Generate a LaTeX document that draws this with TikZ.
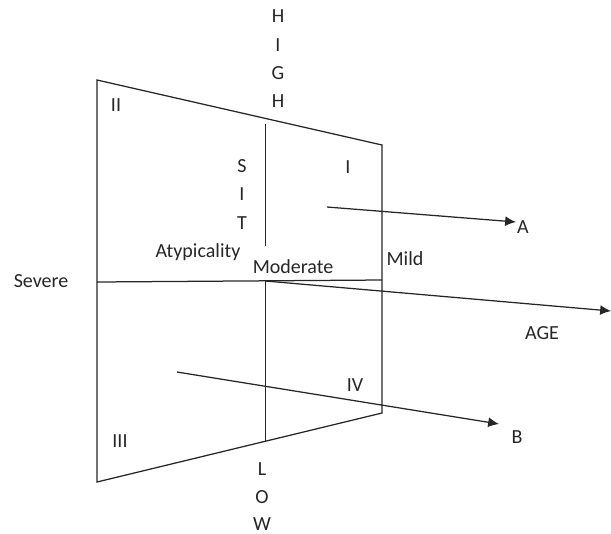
\documentclass[tikz,border=0pt]{standalone}
\usepackage{fontspec}
\setmainfont{Carlito}
\usetikzlibrary{arrows.meta}
\begin{document}
\begin{tikzpicture}[x=0.6pt,y=-0.6pt,
  ln/.style={line width=0.75pt,draw=black!85},
  arr/.style={ln,-{Latex[length=6.5pt,width=6pt]}},
  lbl/.style={font=\fontsize{12}{14}\selectfont,text=black!85,inner sep=0pt}]
\useasboundingbox (0,0) rectangle (611,533);
% frame corners
\coordinate (tl) at (97,80);
\coordinate (tr) at (382,145);
\coordinate (br) at (382,413);
\coordinate (bl) at (97,482);
\coordinate (ml) at (97,282);
\coordinate (mr) at (382,280);
\coordinate (vt) at (265.5,124);
\coordinate (vm1) at (265.5,246);
\coordinate (c) at (265.5,281);
\coordinate (vb) at (265.5,441);
\coordinate (agetip) at (611,311);
\coordinate (as) at (327,207);
\coordinate (ae) at (516,222);
\coordinate (bs) at (177,372);
\coordinate (be) at (499,424);
\draw[ln] (tl) -- (tr) -- (br) -- (bl) -- cycle;
\draw[ln] (ml) -- (mr);
\draw[ln] (vt) -- (vm1);
\draw[ln] (c) -- (vb);
\draw[arr] (c) -- (agetip);
\draw[arr] (as) -- (ae);
\draw[arr] (bs) -- (be);
% labels
\node[lbl] (h1) at (278,16) {H};
\node[lbl] (h2) at (278,45) {I};
\node[lbl] (h3) at (278,73) {G};
\node[lbl] (h4) at (278,101) {H};
\node[lbl] (q2) at (116,105) {II};
\node[lbl] (s1) at (242,166) {S};
\node[lbl] (s2) at (242,194) {I};
\node[lbl] (s3) at (242,223) {T};
\node[lbl] (q1) at (348,167) {I};
\node[lbl] (atyp) at (198,252) {Atypicality};
\node[lbl] (mod) at (293,267) {Moderate};
\node[lbl] (mild) at (405,259) {Mild};
\node[lbl] (sev) at (41,281) {Severe};
\node[lbl] (age) at (542,333) {AGE};
\node[lbl] (a) at (523,227) {A};
\node[lbl] (b) at (517,437) {B};
\node[lbl] (q4) at (355,385) {IV};
\node[lbl] (q3) at (120,441) {III};
\node[lbl] (l1) at (262,469) {L};
\node[lbl] (l2) at (262,497) {O};
\node[lbl] (l3) at (262,524) {W};
\end{tikzpicture}
\end{document}
